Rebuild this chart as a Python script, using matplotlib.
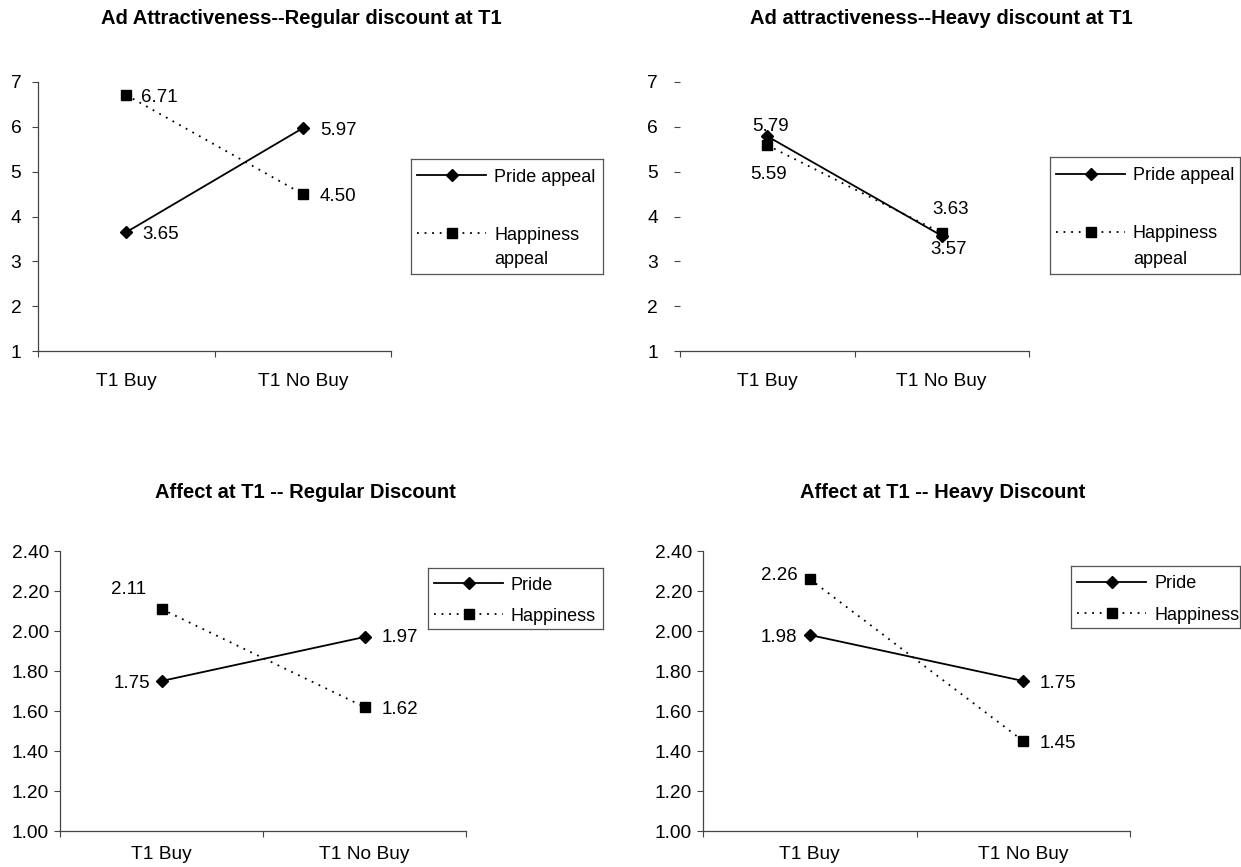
import matplotlib
matplotlib.use("Agg")
import matplotlib.pyplot as plt

plt.rcParams['font.family'] = ['Liberation Sans', 'DejaVu Sans']

# ---------------- data ----------------
categories = ['T1 Buy', 'T1 No Buy']

ad_regular_pride = [3.65, 5.97]
ad_regular_happiness = [6.71, 4.50]

ad_heavy_pride = [5.79, 3.57]
ad_heavy_happiness = [5.59, 3.63]

affect_regular_pride = [1.75, 1.97]
affect_regular_happiness = [2.11, 1.62]

affect_heavy_pride = [1.98, 1.75]
affect_heavy_happiness = [2.26, 1.45]

ad_yticks = [1, 2, 3, 4, 5, 6, 7]
affect_yticks = [1.00, 1.20, 1.40, 1.60, 1.80, 2.00, 2.20, 2.40]

titles = ['Ad Attractiveness--Regular discount at T1',
          'Ad attractiveness--Heavy discount at T1',
          'Affect at T1 -- Regular Discount',
          'Affect at T1 -- Heavy Discount']

# ---------------- layout ----------------
W, H = 1241, 867
DPI = 100
fig = plt.figure(figsize=(W / DPI, H / DPI), dpi=DPI)
fig.patch.set_facecolor('white')

FS = 13.8
AFS = 13.5
TFS = 14.5


def rect(x0, x1, yt, yb):
    return [x0 / W, 1 - yb / H, (x1 - x0) / W, (yb - yt) / H]


pride_style = dict(color='black', lw=1.3, ls='-', marker='D', ms=6.2,
                   mfc='black', mec='black')
happy_style = dict(color='black', lw=1.3, ls=(0, (1, 3.2)), marker='s', ms=6.6,
                   mfc='black', mec='black')


def setup_axes(box, yticks, ylabels, xlabel_pad, show_left=True, ytick_pad=6):
    ax = fig.add_axes(rect(*box))
    x = list(range(len(categories)))
    ax.set_xlim(-0.5, len(categories) - 0.5)
    ax.set_ylim(yticks[0], yticks[-1])
    for s in ['top', 'right']:
        ax.spines[s].set_visible(False)
    ax.spines['left'].set_visible(show_left)
    ax.spines['left'].set_color('#444444')
    ax.spines['bottom'].set_color('#444444')
    ax.spines['left'].set_linewidth(0.9)
    ax.spines['bottom'].set_linewidth(0.9)
    ax.set_yticks(yticks)
    ax.set_yticklabels(ylabels)
    ax.tick_params(axis='y', direction='out', length=4, width=0.8,
                   color='#444444', labelsize=FS, pad=ytick_pad)
    ax.set_xticks([-0.5, 0.5, 1.5])
    ax.set_xticklabels([])
    ax.tick_params(axis='x', which='major', direction='out', length=4,
                   width=0.8, color='#444444')
    ax.set_xticks(x, minor=True)
    ax.set_xticklabels(categories, minor=True)
    ax.tick_params(axis='x', which='minor', length=0, labelsize=FS,
                   pad=xlabel_pad)
    return ax, x


def annotate(ax, xv, yv, txt, dx, dy, ha):
    ax.annotate(txt, xy=(xv, yv), xytext=(dx, dy), textcoords='offset pixels',
                ha=ha, va='center_baseline', fontsize=AFS, clip_on=False)


def legend_box(box, entries, fontsize=13):
    # box: (x0, x1, yt, yb) in pixels; entries: (style, label, y_px)
    x0, x1, yt, yb = box
    lax = fig.add_axes(rect(x0, x1, yt, yb))
    lax.set_xlim(x0, x1)
    lax.set_ylim(yb, yt)
    lax.set_xticks([])
    lax.set_yticks([])
    for s in lax.spines.values():
        s.set_color('#555555')
        s.set_linewidth(0.9)
    for style, label, y in entries:
        hx0 = x0 + 6
        hx1 = x0 + 75
        lax.plot([hx0, hx1], [y, y], color=style['color'], lw=style['lw'],
                 ls=style['ls'], clip_on=False)
        lax.plot([(hx0 + hx1) / 2], [y], ls='none', marker=style['marker'],
                 ms=style['ms'], mfc='black', mec='black', clip_on=False)
        for i, ln in enumerate(label.split('\n')):
            lax.text(hx1 + 8, y + i * 25, ln, ha='left',
                     va='center_baseline', fontsize=fontsize)
    return lax


# ---------- Chart 1: Ad attractiveness, regular ----------
ax1, x = setup_axes((38, 391, 82, 351), ad_yticks, [str(v) for v in ad_yticks],
                    xlabel_pad=16, ytick_pad=8)
ax1.plot(x, ad_regular_pride, **pride_style)
ax1.plot(x, ad_regular_happiness, **happy_style)
annotate(ax1, 0, ad_regular_happiness[0], f'{ad_regular_happiness[0]:.2f}', 15, 0, 'left')
annotate(ax1, 0, ad_regular_pride[0], f'{ad_regular_pride[0]:.2f}', 16, 0, 'left')
annotate(ax1, 1, ad_regular_pride[1], f'{ad_regular_pride[1]:.2f}', 17, 0, 'left')
annotate(ax1, 1, ad_regular_happiness[1], f'{ad_regular_happiness[1]:.2f}', 17, 0, 'left')
fig.text(301 / W, 1 - 18 / H, titles[0], ha='center', va='center',
         fontsize=TFS, fontweight='bold')
legend_box((411, 603, 159, 274), [(pride_style, 'Pride appeal', 175),
                                  (happy_style, 'Happiness\nappeal', 233)])

# ---------- Chart 2: Ad attractiveness, heavy ----------
ax2, x = setup_axes((680, 1029, 82, 351), ad_yticks, [str(v) for v in ad_yticks],
                    xlabel_pad=16, show_left=False, ytick_pad=12)
ax2.plot(x, ad_heavy_pride, **pride_style)
ax2.plot(x, ad_heavy_happiness, **happy_style)
annotate(ax2, 0, ad_heavy_pride[0], f'{ad_heavy_pride[0]:.2f}', 3, 12, 'center')
annotate(ax2, 0, ad_heavy_happiness[0], f'{ad_heavy_happiness[0]:.2f}', 1, -27, 'center')
annotate(ax2, 1, ad_heavy_happiness[1], f'{ad_heavy_happiness[1]:.2f}', 9, 26, 'center')
annotate(ax2, 1, ad_heavy_pride[1], f'{ad_heavy_pride[1]:.2f}', 7, -12, 'center')
fig.text(941 / W, 1 - 18 / H, titles[1], ha='center', va='center',
         fontsize=TFS, fontweight='bold')
legend_box((1050, 1240, 157, 274), [(pride_style, 'Pride appeal', 174),
                                    (happy_style, 'Happiness\nappeal', 232)])

# ---------- Chart 3: Affect, regular ----------
ax3, x = setup_axes((60, 466, 551, 831), affect_yticks,
                    [f'{v:.2f}' for v in affect_yticks], xlabel_pad=11, ytick_pad=4)
ax3.plot(x, affect_regular_pride, **pride_style)
ax3.plot(x, affect_regular_happiness, **happy_style)
annotate(ax3, 0, affect_regular_happiness[0], f'{affect_regular_happiness[0]:.2f}', -15, 21, 'right')
annotate(ax3, 0, affect_regular_pride[0], f'{affect_regular_pride[0]:.2f}', -11, 0, 'right')
annotate(ax3, 1, affect_regular_pride[1], f'{affect_regular_pride[1]:.2f}', 17, 2, 'left')
annotate(ax3, 1, affect_regular_happiness[1], f'{affect_regular_happiness[1]:.2f}', 17, 0, 'left')
fig.text(305 / W, 1 - 492 / H, titles[2], ha='center', va='center',
         fontsize=TFS, fontweight='bold')
legend_box((428, 603, 568, 629), [(pride_style, 'Pride', 583),
                                  (happy_style, 'Happiness', 614)])

# ---------- Chart 4: Affect, heavy ----------
ax4, x = setup_axes((703, 1130, 551, 831), affect_yticks,
                    [f'{v:.2f}' for v in affect_yticks], xlabel_pad=11, ytick_pad=4)
ax4.plot(x, affect_heavy_pride, **pride_style)
ax4.plot(x, affect_heavy_happiness, **happy_style)
annotate(ax4, 0, affect_heavy_happiness[0], f'{affect_heavy_happiness[0]:.2f}', -12, 6, 'right')
annotate(ax4, 0, affect_heavy_pride[0], f'{affect_heavy_pride[0]:.2f}', -13, 0, 'right')
annotate(ax4, 1, affect_heavy_pride[1], f'{affect_heavy_pride[1]:.2f}', 16, 0, 'left')
annotate(ax4, 1, affect_heavy_happiness[1], f'{affect_heavy_happiness[1]:.2f}', 16, -1, 'left')
fig.text(943 / W, 1 - 492 / H, titles[3], ha='center', va='center',
         fontsize=TFS, fontweight='bold')
legend_box((1071, 1240, 566, 628), [(pride_style, 'Pride', 582),
                                    (happy_style, 'Happiness', 613)])

fig.savefig('out.png', dpi=DPI, facecolor='white')
